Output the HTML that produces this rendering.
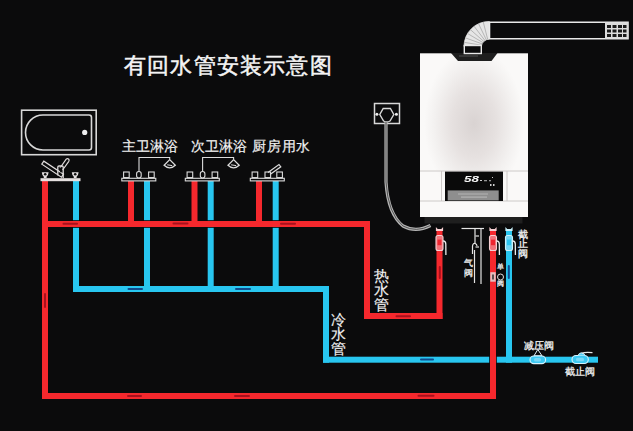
<!DOCTYPE html>
<html><head><meta charset="utf-8">
<style>
html,body{margin:0;padding:0;background:#0b0b0c;width:633px;height:431px;overflow:hidden}
.t{position:absolute;font-family:"Liberation Sans",sans-serif;color:#f4f4f4;white-space:nowrap;line-height:1}
svg{position:absolute;left:0;top:0;filter:blur(0.3px)}
</style></head><body>
<svg width="633" height="431" viewBox="0 0 633 431">
<!-- RED pipes -->
<g fill="#f5282d">
<rect x="42" y="181" width="6" height="218"/>
<rect x="42" y="393" width="454" height="6"/>
<rect x="490" y="229" width="6" height="170"/>
<rect x="42" y="221" width="328" height="6"/>
<rect x="128" y="181" width="6" height="46"/>
<rect x="191.5" y="181" width="6" height="46"/>
<rect x="256" y="181" width="6" height="46"/>
<rect x="364" y="221" width="6" height="98"/>
<rect x="364" y="313" width="78.5" height="6"/>
<rect x="436.5" y="229" width="6" height="90"/>
</g>
<!-- BLUE pipes -->
<g fill="#28c6f0">
<rect x="73" y="181" width="6" height="39.2"/>
<rect x="73" y="227.8" width="6" height="64.2"/>
<rect x="73" y="286" width="256" height="6"/>
<rect x="144" y="181" width="6" height="39.2"/>
<rect x="144" y="227.8" width="6" height="64.2"/>
<rect x="207.7" y="181" width="6" height="39.2"/>
<rect x="207.7" y="227.8" width="6" height="64.2"/>
<rect x="272.7" y="181" width="6" height="39.2"/>
<rect x="272.7" y="227.8" width="6" height="64.2"/>
<rect x="323" y="286" width="6" height="76.7"/>
<rect x="323" y="356.7" width="166.2" height="6"/><rect x="496.8" y="356.7" width="101.2" height="6"/>
<rect x="506" y="229" width="6" height="133.7"/>
</g>
<!-- red over blue at bottom crossing -->

<!-- joint marks -->
<g stroke="#a8101c" stroke-width="2" stroke-linecap="round">
<line x1="63.5" y1="223.8" x2="77" y2="223.8"/>
<line x1="173.5" y1="223.6" x2="187.5" y2="223.6"/>
<line x1="281" y1="223.8" x2="295" y2="223.8"/>
<line x1="128" y1="396" x2="141" y2="396"/>
<line x1="235" y1="396" x2="249" y2="396"/>
<line x1="418.5" y1="395.8" x2="433.5" y2="395.8"/>
<line x1="45" y1="294" x2="45" y2="307"/>
<line x1="396.5" y1="316.3" x2="410" y2="316.3"/>
<line x1="439.8" y1="267" x2="439.8" y2="278"/>
</g>
<g stroke="#104a8c" stroke-width="2" stroke-linecap="round">
<line x1="128.5" y1="289" x2="142" y2="289"/>
<line x1="236" y1="289" x2="250" y2="289"/>
<line x1="421" y1="359.6" x2="433" y2="359.6"/>
<line x1="508.8" y1="266" x2="508.8" y2="278"/>
</g>
<!-- bathtub -->
<g fill="none" stroke="#d8d8d8" stroke-width="1.6">
<rect x="21.6" y="110.2" width="74.6" height="44.5"/>
<path d="M43 115 H89 Q91.5 115 91.5 117.5 V147.5 Q91.5 150 89 150 H43 A17.5 17.5 0 0 1 43 115 Z"/>
</g>
<circle cx="84.7" cy="132.4" r="2.6" fill="#eee"/>

<!-- heater body -->
<defs>
<radialGradient id="hg" cx="0.5" cy="0.43" r="0.46">
<stop offset="0" stop-color="#d9d3d2"/>
<stop offset="0.45" stop-color="#e6e1e0"/>
<stop offset="0.8" stop-color="#f3f1f0"/>
<stop offset="1" stop-color="#faf9f8"/>
</radialGradient>
</defs>
<rect x="420" y="53.3" width="108" height="163.7" fill="url(#hg)"/>
<path d="M451 53 H497.5 L491.5 61 H458 Z" fill="#1e1e1e"/><line x1="459" y1="56" x2="478" y2="56" stroke="#5a5a5a" stroke-width="0.8"/>
<rect x="424.5" y="217" width="98" height="6.5" fill="#1f1f1f"/>
<!-- panel -->
<g stroke="#c8c4c3" stroke-width="0.9" fill="none">
<line x1="420" y1="171" x2="528" y2="171"/>
<line x1="420" y1="201" x2="528" y2="201"/>
<line x1="441.5" y1="171" x2="441.5" y2="201"/>
<line x1="507" y1="171" x2="507" y2="201"/>
</g>
<rect x="445" y="171.6" width="58" height="29.4" fill="#0a0a0a"/>
<rect x="447.7" y="190.4" width="51" height="10" fill="#8e8e8e"/>
<g fill="#b4b4b4"><rect x="458" y="193.5" width="30" height="1"/><rect x="461" y="196.5" width="26" height="1.2"/></g>
<text x="464" y="182.3" font-family="Liberation Sans" font-size="9.5" fill="#f4f4f4" font-style="italic" font-weight="bold" textLength="15" lengthAdjust="spacingAndGlyphs">58</text>
<g fill="#cfcfcf"><rect x="480" y="180" width="2" height="1"/><rect x="484" y="180.3" width="3" height="0.9"/><rect x="489" y="180.3" width="2" height="0.9"/><rect x="492" y="177" width="1" height="1"/><rect x="490" y="184" width="1.5" height="2"/><rect x="493" y="184" width="1.5" height="2"/></g>

<!-- bath faucet -->
<g fill="none" stroke="#e0dcdc" stroke-width="1.3">
<rect x="40.5" y="178.2" width="40" height="3" fill="#e6e0e0" stroke="none"/>
<path d="M41.8 172.3 H48.6 Q48.3 175.8 46.6 176.8 V178 H43.8 V176.8 Q42.1 175.8 41.8 172.3 Z" fill="#e4e0e0" stroke="none"/>
<path d="M71.8 172.3 H78.6 Q78.3 175.8 76.6 176.8 V178 H73.8 V176.8 Q72.1 175.8 71.8 172.3 Z" fill="#e4e0e0" stroke="none"/>
<path d="M41.8 164.2 L43.8 161.2 L63.5 174.2 L61.5 177.2 Z" stroke-width="1.2"/>
<path d="M57.8 175.5 V167 Q57.8 166 59 166 H62 Q63.2 166 63.2 167 V178" />
<path d="M60 168 L66.2 159.2 Q67.3 158 68.6 159 Q69.6 160 68.8 161.3 L62.6 170" stroke-width="1.2"/>
</g>
<g fill="#111"><circle cx="45.2" cy="174.3" r="1.3"/><circle cx="75.2" cy="174.3" r="1.3"/><circle cx="60.5" cy="168.5" r="1"/><circle cx="61" cy="171.5" r="1"/></g>

<!-- shower sets -->
<g id="sh1" fill="none" stroke="#dcdcdc" stroke-width="1.1">
<rect x="121.8" y="178.3" width="34" height="2.6"/>
<rect x="123.6" y="172" width="5.6" height="5.6"/>
<rect x="136.6" y="171.5" width="4.6" height="6.5" rx="2.2"/>
<rect x="148.6" y="172" width="5.6" height="5.6"/>
<path d="M139 171.5 V157.5 H169.7 V159.3"/>
<path d="M169.7 159.6 L164.1 165.2 Q169.7 170.5 175.3 165.2 Z" stroke-width="1.3"/>
<line x1="167.2" y1="164.8" x2="172.2" y2="165.6" stroke-width="1"/>
</g>
<g fill="none" stroke="#dcdcdc" stroke-width="1.1">
<rect x="185.3" y="178.3" width="34" height="2.6"/>
<rect x="187.1" y="172" width="5.6" height="5.6"/>
<rect x="200.3" y="171.5" width="4.6" height="6.5" rx="2.2"/>
<rect x="212.1" y="172" width="5.6" height="5.6"/>
<path d="M202.6 171.5 V157.5 H233.6 V159.3"/>
<path d="M233.6 159.6 L228.0 165.2 Q233.6 170.5 239.2 165.2 Z" stroke-width="1.3"/>
<line x1="231.1" y1="164.8" x2="236.1" y2="165.6" stroke-width="1"/>
</g>
<g fill="none" stroke="#dcdcdc" stroke-width="1.1">
<rect x="250.3" y="178.3" width="34" height="2.6"/>
<rect x="252.1" y="172" width="5.6" height="5.6"/>
<rect x="265" y="172" width="5.6" height="5.6"/>
<rect x="276.8" y="172" width="5.6" height="5.6"/>
<path d="M268 172.5 L279 164.5 L280.8 166.8 L270 174.5" stroke-width="1.2"/>
</g>

<!-- flue -->
<g fill="none" stroke="#e8e8e8" stroke-width="1.6">
<path d="M489.5 22.2 H628 V38.8 H489.5"/>
<line x1="489.5" y1="22" x2="489.5" y2="39"/>
</g>
<defs><clipPath id="elb"><path d="M464 46.5 A25 25 0 0 1 489.5 21.5 V39.2 A8 8 0 0 0 481.3 46.5 Z"/></clipPath></defs>
<path d="M464 46.5 A25 25 0 0 1 489.5 21.5 V39.2 A8 8 0 0 0 481.3 46.5 Z" fill="#e6e6e6" stroke="#eeeeee" stroke-width="0.8"/>
<g stroke="#8c8c8c" stroke-width="0.55" clip-path="url(#elb)">
<line x1="489.5" y1="46.5" x2="462" y2="42"/>
<line x1="489.5" y1="46.5" x2="463" y2="37"/>
<line x1="489.5" y1="46.5" x2="465" y2="32"/>
<line x1="489.5" y1="46.5" x2="468" y2="27.5"/>
<line x1="489.5" y1="46.5" x2="472" y2="23.5"/>
<line x1="489.5" y1="46.5" x2="477" y2="20.5"/>
<line x1="489.5" y1="46.5" x2="482.5" y2="19"/>
</g>
<rect x="464.3" y="45.5" width="17" height="8" fill="#0b0b0c" stroke="#e8e8e8" stroke-width="1.4"/>
<rect x="605" y="22.5" width="23" height="16" fill="#dcdcdc"/>
<g fill="#1a1a1a">
<rect x="607" y="25" width="4" height="3"/><rect x="612.5" y="25" width="4" height="3"/><rect x="618" y="25" width="4" height="3"/><rect x="623" y="25" width="3.5" height="3"/>
<rect x="607" y="29.5" width="4" height="3"/><rect x="612.5" y="29.5" width="4" height="3"/><rect x="618" y="29.5" width="4" height="3"/><rect x="623" y="29.5" width="3.5" height="3"/>
<rect x="607" y="34" width="4" height="3"/><rect x="612.5" y="34" width="4" height="3"/><rect x="618" y="34" width="4" height="3"/><rect x="623" y="34" width="3.5" height="3"/>
</g>

<!-- socket + cable -->
<g fill="none" stroke="#d8d8d8" stroke-width="1.5">
<rect x="374.5" y="103.5" width="25" height="20"/>
<path d="M383.2 108.5 H390.4 L393.8 114.5 L390 121 Q386.8 123 383.6 121 L379.8 114.5 Z" stroke-width="1.4"/>
</g>
<circle cx="376.9" cy="114.3" r="1.5" fill="#eee"/><circle cx="396.4" cy="114.3" r="1.5" fill="#eee"/>
<path d="M386 122 V182 Q388 214 403 226 Q416 233 430.5 225.5" fill="none" stroke="#b4b4b4" stroke-width="3.2"/>
<path d="M386 122 V182 Q388 214 403 226 Q416 233 430.5 225.5" fill="none" stroke="#4a4a4a" stroke-width="0.9"/>

<!-- heater outlet valves -->
<g>
<path d="M435.9 227 L437.7 229 H441.3 L443.1 227 V231 H435.9 Z" fill="#f6cfd2"/>
<rect x="436.0" y="235.5" width="7" height="15" rx="2" fill="#f2737a" stroke="#f6cfd2" stroke-width="1.1"/>
<rect x="437.5" y="239.6" width="4" height="5.6" fill="#ee2630"/>
<path d="M443.0 240.8 Q445.8 241 445.8 244 L445.9 255" fill="none" stroke="#ececec" stroke-width="1.3"/>
<path d="M489.4 227 L491.2 229 H494.8 L496.6 227 V231 H489.4 Z" fill="#f6cfd2"/>
<rect x="489.5" y="235.5" width="7" height="15" rx="2" fill="#f2737a" stroke="#f6cfd2" stroke-width="1.1"/>
<rect x="491" y="239.6" width="4" height="5.6" fill="#ee2630"/>
<path d="M496.5 240.8 Q499.3 241 499.3 244 L499.4 255" fill="none" stroke="#ececec" stroke-width="1.3"/>
<path d="M505.4 227 L507.2 229 H510.8 L512.6 227 V231 H505.4 Z" fill="#c8f0fa"/>
<rect x="505.5" y="235.5" width="7" height="15" rx="2" fill="#74d6f4" stroke="#c8f0fa" stroke-width="1.1"/>
<rect x="507" y="239.6" width="4" height="5.6" fill="#2ac4f0"/>
<path d="M512.5 240.8 Q515.3 241 515.3 244 L515.4 255" fill="none" stroke="#ececec" stroke-width="1.3"/>
</g>
<!-- gas pipe -->
<g fill="none" stroke="#e4e4e4" stroke-width="1.2">
<path d="M461.5 228.5 H484"/>
<line x1="481" y1="228.5" x2="481" y2="284"/>
<line x1="475" y1="228.5" x2="475" y2="244"/>
<path d="M472.5 254 V246 Q473 243 475 243.5 Q477 244 477 246" />
<line x1="474.5" y1="250" x2="474.5" y2="283"/>
<line x1="475.5" y1="236" x2="479" y2="236"/>
<line x1="475.5" y1="247" x2="479" y2="247"/>
</g>
<!-- single check valve symbol -->
<rect x="490.3" y="272.2" width="5.4" height="9.5" fill="#e0d8d8" opacity="0.85"/><line x1="493" y1="274.5" x2="493" y2="279.5" stroke="#222" stroke-width="1.4"/>
<circle cx="500.5" cy="277" r="3" fill="none" stroke="#e0e0e0" stroke-width="1"/>

<!-- bottom right valves -->
<g>
<path d="M537.8 349.5 L534 355.8 H542 Z" fill="none" stroke="#e0f0f8" stroke-width="1"/>
<rect x="530" y="356" width="15.6" height="7.6" rx="3.8" fill="#3cc8f2" stroke="#d8f2fc" stroke-width="1.1"/><rect x="534" y="358" width="7" height="3.5" rx="1.5" fill="#7ad8f6"/>
<rect x="572" y="355.5" width="16.3" height="8" rx="4" fill="#3cc8f2" stroke="#d8f2fc" stroke-width="1.1"/><rect x="576" y="357.8" width="8" height="3.5" rx="1.5" fill="#7ad8f6"/>
<path d="M578 355.5 Q579 352.8 581.5 352.8 Q584 352.8 585 355.5" fill="#5cd0f4" stroke="#d8f2fc" stroke-width="1"/>
<path d="M582 353.3 Q584 352 592.5 352.6" fill="none" stroke="#e8e8e8" stroke-width="1.1"/>
</g>
</svg>

<div class="t" style="left:124px;top:55px;font-size:22px;letter-spacing:1.2px;-webkit-text-stroke:0.5px #f4f4f4">有回水管安装示意图</div>
<div class="t" style="left:121.8px;top:139.3px;font-size:14.3px;-webkit-text-stroke:0.2px #eee">主卫淋浴</div>
<div class="t" style="left:191px;top:139.3px;font-size:14.3px;-webkit-text-stroke:0.2px #eee">次卫淋浴</div>
<div class="t" style="left:252px;top:139.3px;font-size:14.3px;letter-spacing:0.8px;-webkit-text-stroke:0.2px #eee">厨房用水</div>

<div class="t" style="left:373.5px;top:268.5px;font-size:15px;width:15px;line-height:14.8px;-webkit-text-stroke:0.15px #eee;white-space:normal;text-align:center">热<br>水<br>管</div>
<div class="t" style="left:331px;top:312.5px;font-size:15px;width:15px;line-height:14.8px;-webkit-text-stroke:0.15px #eee;white-space:normal;text-align:center">冷<br>水<br>管</div>
<div class="t" style="left:518px;top:229.5px;font-size:9.5px;width:9px;line-height:9.9px;white-space:normal;text-align:center;-webkit-text-stroke:0.35px #eee">截<br>止<br>阀</div>
<div class="t" style="left:497px;top:263px;font-size:7px;width:7px;line-height:8.5px;white-space:normal;text-align:center;-webkit-text-stroke:0.25px #eee">单<br><br>阀</div>
<div class="t" style="left:464px;top:259px;font-size:8.5px;width:8px;line-height:9.5px;white-space:normal;text-align:center;-webkit-text-stroke:0.3px #eee">气<br>阀</div>
<div class="t" style="left:524px;top:340.5px;font-size:9.6px;-webkit-text-stroke:0.3px #eee">减压阀</div>
<div class="t" style="left:565px;top:366.5px;font-size:9.6px;-webkit-text-stroke:0.3px #eee">截止阀</div>
</body></html>
